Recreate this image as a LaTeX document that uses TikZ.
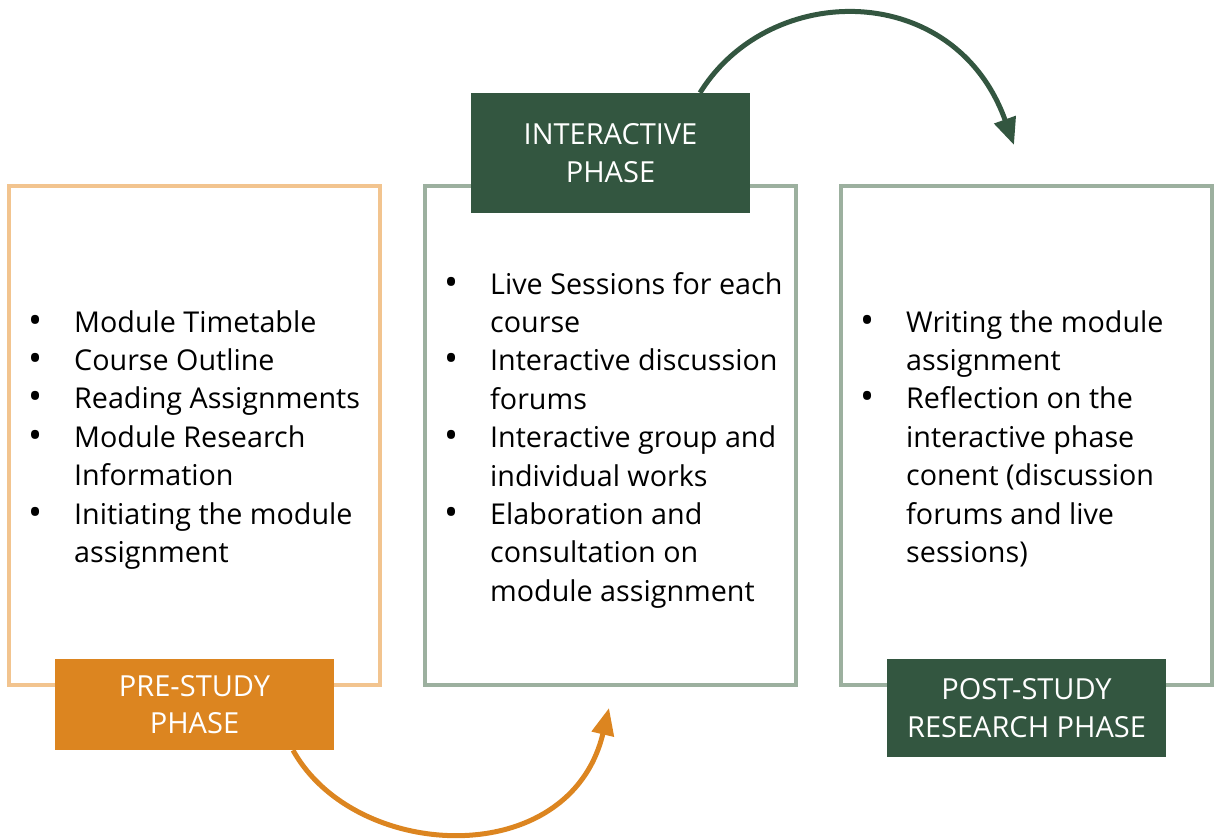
\documentclass[tikz,border=0pt]{standalone}
\usepackage{fontspec}
\setmainfont{Open Sans}
\usetikzlibrary{arrows.meta}
\definecolor{orangeline}{HTML}{F2C48F}
\definecolor{orangefill}{HTML}{DC8520}
\definecolor{greenfill}{HTML}{335640}
\definecolor{greyline}{HTML}{9CB09F}
\newcommand\bitem[1]{\par\noindent\hangindent=46pt\hangafter=1\makebox[46pt][l]{\raisebox{-1pt}{\scalebox{1.3}{\textbullet}}}#1}
\begin{document}
\begin{tikzpicture}[x=1pt,y=-1pt,
  phasebox/.style={draw, line width=4pt, fill=white, minimum width=371pt, minimum height=499pt, inner sep=0pt},
  labelbox/.style={minimum width=279pt, text=white, align=center, inner sep=0pt,
     font=\fontsize{29}{37.5}\selectfont},
  listtext/.style={anchor=base west, inner sep=0pt, font=\fontsize{28.7}{38.4}\selectfont},
  flow/.style={line width=5pt, -{Triangle[length=27pt,width=22pt]}}
]
\useasboundingbox (0,0) rectangle (1220,839);
% phase boxes
\node[phasebox, draw=orangeline] (b1) at (194.5,435.5) {};
\node[phasebox, draw=greyline] (b2) at (610.5,435.5) {};
\node[phasebox, draw=greyline] (b3) at (1026.5,435.5) {};
% labels
\node[labelbox, fill=orangefill, minimum height=91pt] (l1) at (194.5,704.5) {PRE-STUDY\\PHASE};
\node[labelbox, fill=greenfill, minimum height=120pt] (l2) at (610.5,153) {INTERACTIVE\\PHASE};
\node[labelbox, fill=greenfill, minimum height=98pt] (l3) at (1026.5,708) {POST-STUDY\\RESEARCH PHASE};
% lists
\node[listtext] (t1) at (28,332) {\parbox[t]{345pt}{%
  \bitem{Module Timetable}
  \bitem{Course Outline}
  \bitem{Reading Assignments}
  \bitem{Module Research\\Information}
  \bitem{Initiating the module\\assignment}}};
\node[listtext] (t2) at (444,294) {\parbox[t]{345pt}{%
  \bitem{Live Sessions for each\\course}
  \bitem{Interactive discussion\\forums}
  \bitem{Interactive group and\\individual works}
  \bitem{Elaboration and\\consultation on\\module assignment}}};
\node[listtext] (t3) at (860,332) {\parbox[t]{345pt}{%
  \bitem{Writing the module\\assignment}
  \bitem{Reflection on the\\interactive phase\\conent (discussion\\forums and live\\sessions)}}};
% arrows
\coordinate (e1) at (609,708);
\coordinate (e2) at (1014,145);
\draw[flow, draw=orangefill] ([xshift=98.5pt]l1.south) .. controls (355,862) and (570,872) .. (e1);
\draw[flow, draw=greenfill] ([xshift=89.5pt]l2.north) .. controls (770,-20) and (955,-20) .. (e2);
\end{tikzpicture}
\end{document}
